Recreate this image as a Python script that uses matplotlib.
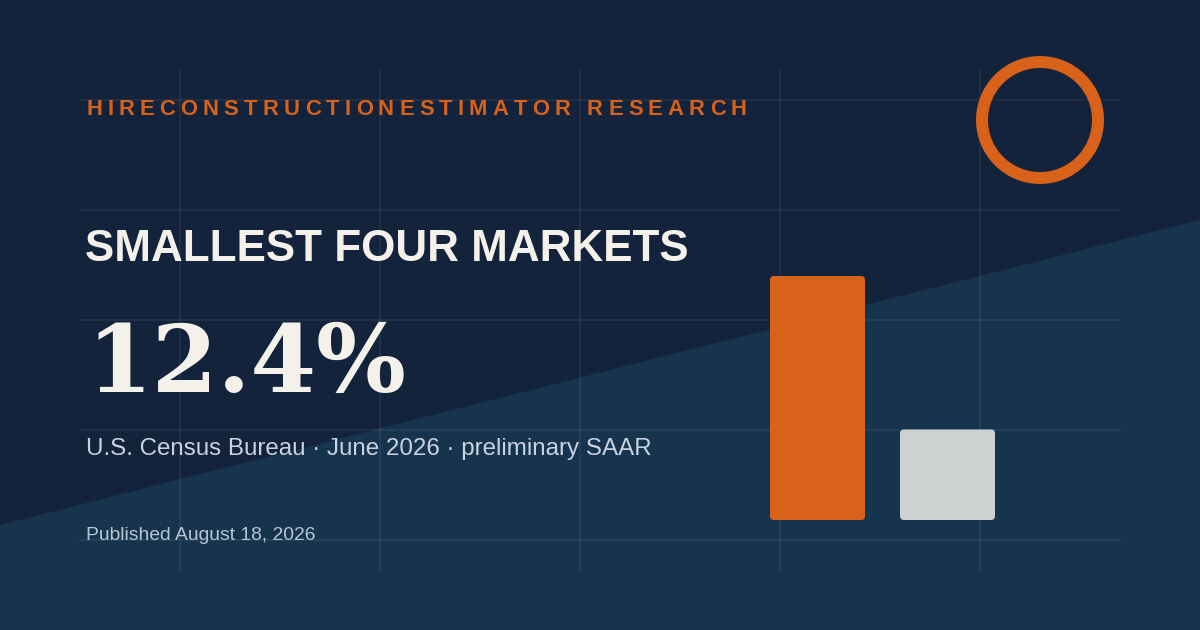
import matplotlib
matplotlib.use("Agg")
import matplotlib.pyplot as plt
from matplotlib.patches import Polygon, Circle, FancyBboxPatch

# values shown in the card
categories = ["Smallest four markets", "Comparison"]
bar_values = [12.4, 4.6]
bar_colors = ["#d8621a", "#cdd1d0"]

brand = "HIRECONSTRUCTIONESTIMATOR RESEARCH"
title = "SMALLEST FOUR MARKETS"
big_number = "12.4%"
subtitle = "U.S. Census Bureau \u00b7 June 2026 \u00b7 preliminary SAAR"
published = "Published August 18, 2026"

# colours
bg_top = "#13233b"
bg_bottom = "#17344f"
orange = "#d8621a"
cream = "#f4f1ea"

fig = plt.figure(figsize=(12, 6.3), dpi=100)
fig.patch.set_facecolor(bg_top)

# background axes in pixel units (y down)
ax = fig.add_axes([0, 0, 1, 1])
ax.set_xlim(0, 1200)
ax.set_ylim(630, 0)
ax.axis("off")

ax.add_patch(Polygon([(0, 525), (1200, 220), (1200, 630), (0, 630)],
                     closed=True, facecolor=bg_bottom, edgecolor="none", zorder=0))

# faint grid
for gx in [180, 380, 580, 780, 980]:
    ax.plot([gx, gx], [70, 570], color="white", alpha=0.07, lw=1.2, zorder=1)
for gy in [100, 210, 320, 430, 540]:
    ax.plot([80, 1120], [gy, gy], color="white", alpha=0.07, lw=1.2, zorder=1)

# ring in the corner
ax.add_patch(Circle((1040, 120), 58, fill=False, edgecolor=orange, lw=8.6, zorder=2))

# letter spaced brand line
renderer = fig.canvas.get_renderer()


def text_width(s, **kw):
    t = ax.text(0, 0, s, **kw)
    w = t.get_window_extent(renderer).width
    t.remove()
    return w


def spaced_text(x, y, s, spacing, **kw):
    base = text_width("HH", **kw)
    for ch in s:
        if ch != " ":
            ax.text(x, y, ch, va="baseline", ha="left", **kw)
        x += text_width("H" + ch + "H", **kw) - base + spacing


spaced_text(86, 115, brand, 5.2, fontsize=15.8, fontweight="bold",
            family="Liberation Sans", color=orange, zorder=3)

ax.text(85, 261, title, fontsize=31.7, fontweight="bold", family="Liberation Sans",
        color=cream, va="baseline", ha="left", zorder=3)
ax.text(86, 392, big_number, fontsize=68, fontweight="bold", family="DejaVu Serif",
        color=cream, va="baseline", ha="left", zorder=3)
ax.text(86, 455, subtitle, fontsize=17.4, family="Liberation Sans",
        color="#c9d3df", va="baseline", ha="left", zorder=3)
ax.text(86, 540, published, fontsize=13.9, family="Liberation Sans",
        color="#b8c5d3", va="baseline", ha="left", zorder=3)

# bar chart
bax = fig.add_axes([770 / 1200, 110 / 630, 225 / 1200, 244 / 630])
bax.axis("off")
w = 95 / 130
bax.set_xlim(-w / 2, 1 + w / 2)
bax.set_ylim(0, max(bar_values))
px_x = 1 / 130
px_y = max(bar_values) / 244
for i, (v, c) in enumerate(zip(bar_values, bar_colors)):
    bax.add_patch(FancyBboxPatch((i - w / 2, 0), w, v,
                                 boxstyle=f"round,pad=0,rounding_size={4 * px_x}",
                                 mutation_aspect=px_y / px_x,
                                 facecolor=c, edgecolor="none"))

fig.savefig("out.png", dpi=100, facecolor=fig.get_facecolor())
